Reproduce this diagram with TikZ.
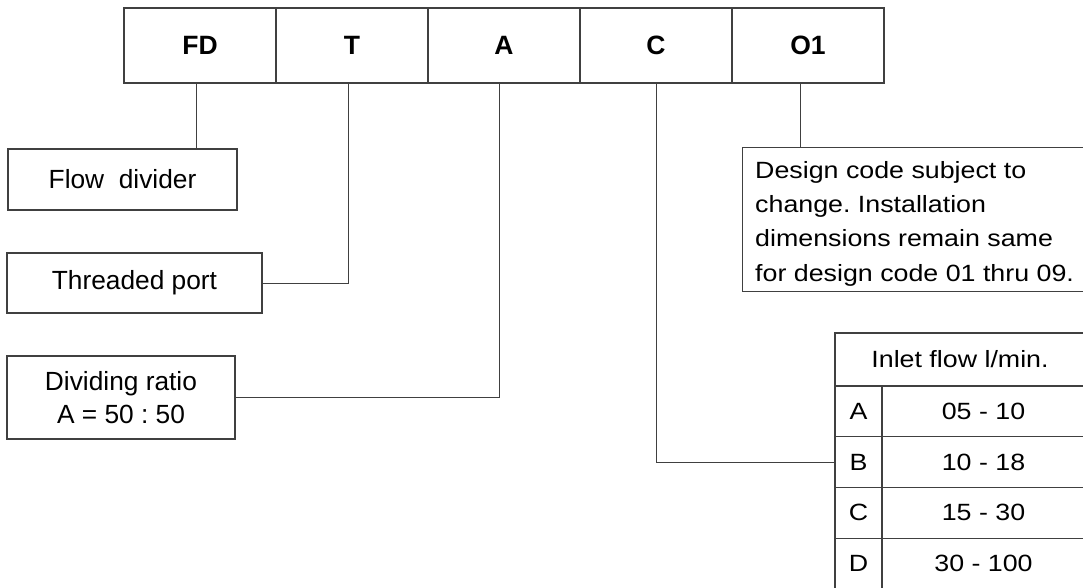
\documentclass[tikz,border=0pt]{standalone}
\usepackage{fontspec}
\setmainfont{Liberation Sans}
\newfontfamily\widefont{Liberation Sans}[FakeStretch=1.14]
\begin{document}
\frenchspacing
\begin{tikzpicture}[x=1pt,y=-1pt,
  box/.style={draw=black!75, line width=1.2pt, inner sep=0pt, font=\fontsize{26.3}{33}\selectfont},
  code/.style={box, minimum width=152pt, minimum height=75pt, font=\fontsize{26.5}{33}\selectfont\bfseries},
  cell/.style={box, minimum height=50.75pt, font=\widefont\fontsize{23.5}{34}\selectfont},
  link/.style={draw=black!75, line width=1pt}]
\useasboundingbox (0,0) rectangle (1083,588);
\clip (0,0) rectangle (1083,588);
% code boxes
\node[code] (fd) at (200,45.5) {FD};
\node[code] (t)  at (352,45.5) {T};
\node[code] (a)  at (504,45.5) {A};
\node[code] (c)  at (656,45.5) {C};
\node[code] (o)  at (808,45.5) {O1};
% left boxes
\node[box, minimum width=229pt, minimum height=61pt] (flow) at (122.5,179.5) {Flow\ \ divider};
\node[box, minimum width=255pt, minimum height=60pt] (thread) at (134.5,283) {Threaded port};
\node[box, minimum width=228pt, minimum height=83pt, align=center] (ratio) at (121,397.5) {Dividing ratio\\A = 50 : 50};
% design note
\node[box, anchor=north west, minimum width=343pt, minimum height=144pt] (design) at (742,147) {};
\node[anchor=north west, inner sep=0pt, align=left, font=\widefont\fontsize{23.5}{34.3}\selectfont] (designtext) at (755,161) {Design code subject to\\change. Installation\\dimensions remain same\\for design code 01 thru 09.};
% table
\node[cell, minimum width=250pt, minimum height=53pt] (head) at (960,359.5) {Inlet flow l/min.};
\node[cell, minimum width=47pt] (la) at (858.5,411.375) {A};
\node[cell, minimum width=203pt] (va) at (983.5,411.375) {05 - 10};
\node[cell, minimum width=47pt] (lb) at (858.5,462.125) {B};
\node[cell, minimum width=203pt] (vb) at (983.5,462.125) {10 - 18};
\node[cell, minimum width=47pt] (lc) at (858.5,512.875) {C};
\node[cell, minimum width=203pt] (vc) at (983.5,512.875) {15 - 30};
\node[cell, minimum width=47pt] (ld) at (858.5,563.625) {D};
\node[cell, minimum width=203pt] (vd) at (983.5,563.625) {30 - 100};
% connectors
\draw[link] ([xshift=-4pt]fd.south) -- ([xshift=-4pt]fd.south |- flow.north);
\draw[link] ([xshift=-4pt]t.south) |- (thread.east);
\draw[link] ([xshift=-5pt]a.south) |- (ratio.east);
\draw[link] (c.south) |- (lb.west);
\draw[link] ([xshift=-8pt]o.south) -- ([xshift=-8pt]o.south |- design.north);
\end{tikzpicture}
\end{document}
